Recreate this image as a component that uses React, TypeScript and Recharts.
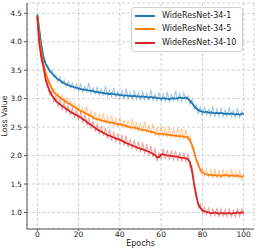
import React from 'react';
import { LineChart, Line, XAxis, YAxis, CartesianGrid } from 'recharts';

const seriesNames = ['WideResNet-34-1', 'WideResNet-34-5', 'WideResNet-34-10'];
const xTicks = [0, 20, 40, 60, 80, 100];
const yTicks = [1.0, 1.5, 2.0, 2.5, 3.0, 3.5, 4.0, 4.5];

// WideResNet-34-1 (smoothed / raw)
const bS = [4.48,4.20,3.92,3.72,3.62,3.55,3.49,3.45,3.41,3.37,
 3.34,3.32,3.29,3.27,3.25,3.24,3.22,3.21,3.20,3.19,
 3.18,3.17,3.16,3.16,3.15,3.14,3.14,3.13,3.12,3.12,
 3.11,3.10,3.10,3.09,3.09,3.08,3.09,3.08,3.07,3.07,
 3.06,3.06,3.05,3.06,3.05,3.05,3.04,3.05,3.04,3.04,
 3.03,3.04,3.03,3.03,3.02,3.03,3.02,3.02,3.01,3.01,
 3.00,3.01,3.00,3.00,2.99,3.00,3.01,3.00,3.01,3.02,
 3.01,3.01,3.02,3.00,2.96,2.92,2.87,2.83,2.80,2.78,
 2.77,2.76,2.77,2.75,2.76,2.75,2.74,2.75,2.74,2.75,
 2.74,2.73,2.74,2.73,2.74,2.73,2.72,2.73,2.72,2.73,
 2.74];
const bR = [4.48,4.17,3.95,3.76,3.60,3.58,3.46,3.50,3.38,3.42,
 3.30,3.38,3.26,3.33,3.21,3.30,3.19,3.27,3.16,3.25,
 3.13,3.26,3.11,3.22,3.12,3.28,3.09,3.19,3.08,3.20,
 3.06,3.17,3.05,3.22,3.04,3.15,3.03,3.19,3.02,3.13,
 3.01,3.14,2.99,3.18,3.00,3.11,2.98,3.15,2.99,3.10,
 2.97,3.13,2.98,3.09,2.96,3.16,2.97,3.08,2.95,3.11,
 2.94,3.08,2.95,3.12,2.93,3.07,2.96,3.14,2.95,3.09,
 2.96,3.10,2.97,3.05,2.90,2.99,2.81,2.90,2.73,2.85,
 2.70,2.86,2.71,2.81,2.69,2.87,2.68,2.82,2.69,2.84,
 2.68,2.80,2.67,2.85,2.68,2.79,2.66,2.83,2.67,2.78,
 2.71];

// WideResNet-34-5
const oS = [4.45,4.05,3.80,3.60,3.45,3.35,3.25,3.18,3.12,3.08,
 3.05,3.02,2.99,2.97,2.94,2.92,2.90,2.88,2.85,2.83,
 2.80,2.78,2.77,2.75,2.73,2.71,2.69,2.67,2.65,2.64,
 2.63,2.62,2.61,2.60,2.59,2.58,2.58,2.57,2.56,2.55,
 2.55,2.54,2.53,2.52,2.51,2.50,2.49,2.49,2.48,2.47,
 2.46,2.45,2.45,2.44,2.43,2.42,2.41,2.40,2.38,2.38,
 2.38,2.38,2.37,2.37,2.36,2.36,2.35,2.35,2.34,2.34,
 2.34,2.33,2.33,2.32,2.26,2.18,2.06,1.94,1.83,1.75,
 1.70,1.68,1.67,1.66,1.66,1.65,1.66,1.65,1.65,1.64,
 1.65,1.66,1.65,1.64,1.65,1.65,1.64,1.65,1.64,1.63,
 1.64];
const oR = [4.45,4.02,3.84,3.57,3.50,3.31,3.30,3.14,3.17,3.03,
 3.10,2.98,3.06,2.92,3.01,2.88,2.97,2.83,2.93,2.79,
 2.89,2.74,2.84,2.71,2.86,2.67,2.79,2.63,2.76,2.60,
 2.72,2.58,2.74,2.56,2.68,2.54,2.71,2.52,2.66,2.50,
 2.67,2.49,2.63,2.48,2.62,2.45,2.65,2.44,2.59,2.42,
 2.58,2.41,2.60,2.39,2.54,2.37,2.56,2.35,2.50,2.33,
 2.52,2.33,2.49,2.32,2.51,2.31,2.47,2.30,2.49,2.29,
 2.48,2.28,2.46,2.27,2.35,2.12,2.14,1.89,1.90,1.70,
 1.78,1.63,1.76,1.62,1.75,1.61,1.77,1.60,1.74,1.59,
 1.76,1.61,1.73,1.60,1.77,1.60,1.72,1.59,1.75,1.58,
 1.68];

// WideResNet-34-10
const rS = [4.45,3.95,3.72,3.55,3.35,3.22,3.13,3.06,3.01,2.96,
 2.93,2.90,2.87,2.85,2.82,2.80,2.77,2.75,2.73,2.71,
 2.69,2.67,2.64,2.62,2.59,2.56,2.54,2.51,2.49,2.46,
 2.44,2.42,2.40,2.38,2.36,2.35,2.33,2.32,2.30,2.29,
 2.28,2.26,2.24,2.22,2.21,2.19,2.18,2.16,2.15,2.13,
 2.12,2.11,2.10,2.08,2.07,2.05,2.03,2.01,1.97,1.97,
 2.02,2.02,2.01,2.00,2.00,1.99,1.99,1.98,1.98,1.97,
 1.96,1.96,1.95,1.94,1.88,1.72,1.50,1.29,1.15,1.08,
 1.04,1.02,1.01,1.00,0.99,0.99,1.00,0.99,0.98,0.99,
 0.99,0.98,0.99,0.99,0.98,0.99,0.99,1.00,0.99,1.00,
 1.00];
const rR = [4.45,3.98,3.66,3.60,3.29,3.27,3.07,3.12,2.94,3.02,
 2.86,2.98,2.80,2.93,2.75,2.88,2.70,2.84,2.66,2.79,
 2.62,2.76,2.57,2.71,2.52,2.66,2.47,2.61,2.42,2.56,
 2.37,2.53,2.34,2.49,2.29,2.46,2.26,2.42,2.23,2.39,
 2.20,2.37,2.17,2.35,2.14,2.30,2.11,2.28,2.08,2.25,
 2.05,2.23,2.03,2.20,2.00,2.17,1.97,2.13,1.90,2.05,
 1.95,2.12,1.94,2.10,1.92,2.09,1.91,2.08,1.90,2.06,
 1.89,2.05,1.88,2.03,1.80,1.82,1.42,1.38,1.08,1.15,
 0.98,1.10,0.96,1.08,0.94,1.07,0.93,1.08,0.92,1.06,
 0.93,1.05,0.92,1.07,0.93,1.04,0.92,1.07,0.93,1.06,
 0.96];

const colors = ['#1f77b4', '#ff7f0e', '#d62728'];

const data = bS.map((_, i) => ({
  epoch: i,
  bS: bS[i], bR: bR[i],
  oS: oS[i], oR: oR[i],
  rS: rS[i], rR: rR[i],
}));

const FONT = '"DejaVu Sans", sans-serif';

const LegendBox = () => (
  <div
    style={{
      position: 'absolute',
      left: 131,
      top: 7,
      background: 'rgba(255,255,255,0.85)',
      border: '1px solid #d0d0d0',
      borderRadius: 3,
      padding: '1px 6px 1px 3px',
      fontFamily: FONT,
      fontSize: 8,
      color: '#222',
      lineHeight: 1,
    }}
  >
    {seriesNames.map((n, i) => (
      <div key={n} style={{ display: 'flex', alignItems: 'center', height: 13.5 }}>
        <div style={{ width: 20, height: 2, background: colors[i], marginRight: 7 }} />
        <span>{n}</span>
      </div>
    ))}
  </div>
);

export default function App() {
  return (
    <div style={{ position: 'absolute', left: 0, top: 0, width: 258, height: 252 }}>
      <LineChart
        width={258}
        height={252}
        data={data}
        margin={{ top: 3, right: 4, left: 0, bottom: 0 }}
        style={{ fontFamily: FONT }}
      >
        <CartesianGrid stroke="#c4c4c4" strokeDasharray="3 2" strokeWidth={0.8} />
        <XAxis
          dataKey="epoch"
          type="number"
          domain={[-5, 105]}
          ticks={xTicks}
          height={23}
          tickSize={2}
          tickMargin={1}
          stroke="#555"
          tick={{ fill: '#222', fontSize: 7.5, fontFamily: FONT }}
          label={{
            content: (p: any) => {
              const vb = p.viewBox;
              return (
                <text x={vb.x + vb.width / 2} y={vb.y + 14} textAnchor="middle" dominantBaseline="central" fontSize={8} fontFamily={FONT} fill="#222">
                  Epochs
                </text>
              );
            },
          }}
        />
        <XAxis xAxisId="top" orientation="top" type="number" domain={[0, 1]} height={0} tick={false} tickLine={false} stroke="#555" />
        <YAxis
          type="number"
          domain={[0.71, 4.68]}
          ticks={yTicks}
          allowDataOverflow
          width={27}
          tickSize={3}
          tickMargin={2}
          stroke="#555"
          tickFormatter={(v: number) => v.toFixed(1)}
          tick={{ fill: '#222', fontSize: 7.3, fontFamily: FONT }}
          label={{
            content: (p: any) => {
              const vb = p.viewBox;
              const cx = 4.5;
              const cy = vb.y + vb.height / 2;
              return (
                <text x={cx} y={cy} transform={`rotate(-90 ${cx} ${cy})`} textAnchor="middle" dominantBaseline="central" fontSize={7.8} fontFamily={FONT} fill="#222">
                  Loss Value
                </text>
              );
            },
          }}
        />
        <YAxis yAxisId="right" orientation="right" type="number" domain={[0, 1]} width={0} tick={false} tickLine={false} stroke="#555" />
        <Line dataKey="bR" stroke={colors[0]} strokeOpacity={0.4} strokeWidth={1.1} dot={false} isAnimationActive={false} />
        <Line dataKey="bS" stroke={colors[0]} strokeWidth={1.8} dot={false} isAnimationActive={false} />
        <Line dataKey="oR" stroke={colors[1]} strokeOpacity={0.4} strokeWidth={1.1} dot={false} isAnimationActive={false} />
        <Line dataKey="oS" stroke={colors[1]} strokeWidth={1.8} dot={false} isAnimationActive={false} />
        <Line dataKey="rR" stroke={colors[2]} strokeOpacity={0.4} strokeWidth={1.1} dot={false} isAnimationActive={false} />
        <Line dataKey="rS" stroke={colors[2]} strokeWidth={1.8} dot={false} isAnimationActive={false} />
      </LineChart>
      <LegendBox />
    </div>
  );
}
